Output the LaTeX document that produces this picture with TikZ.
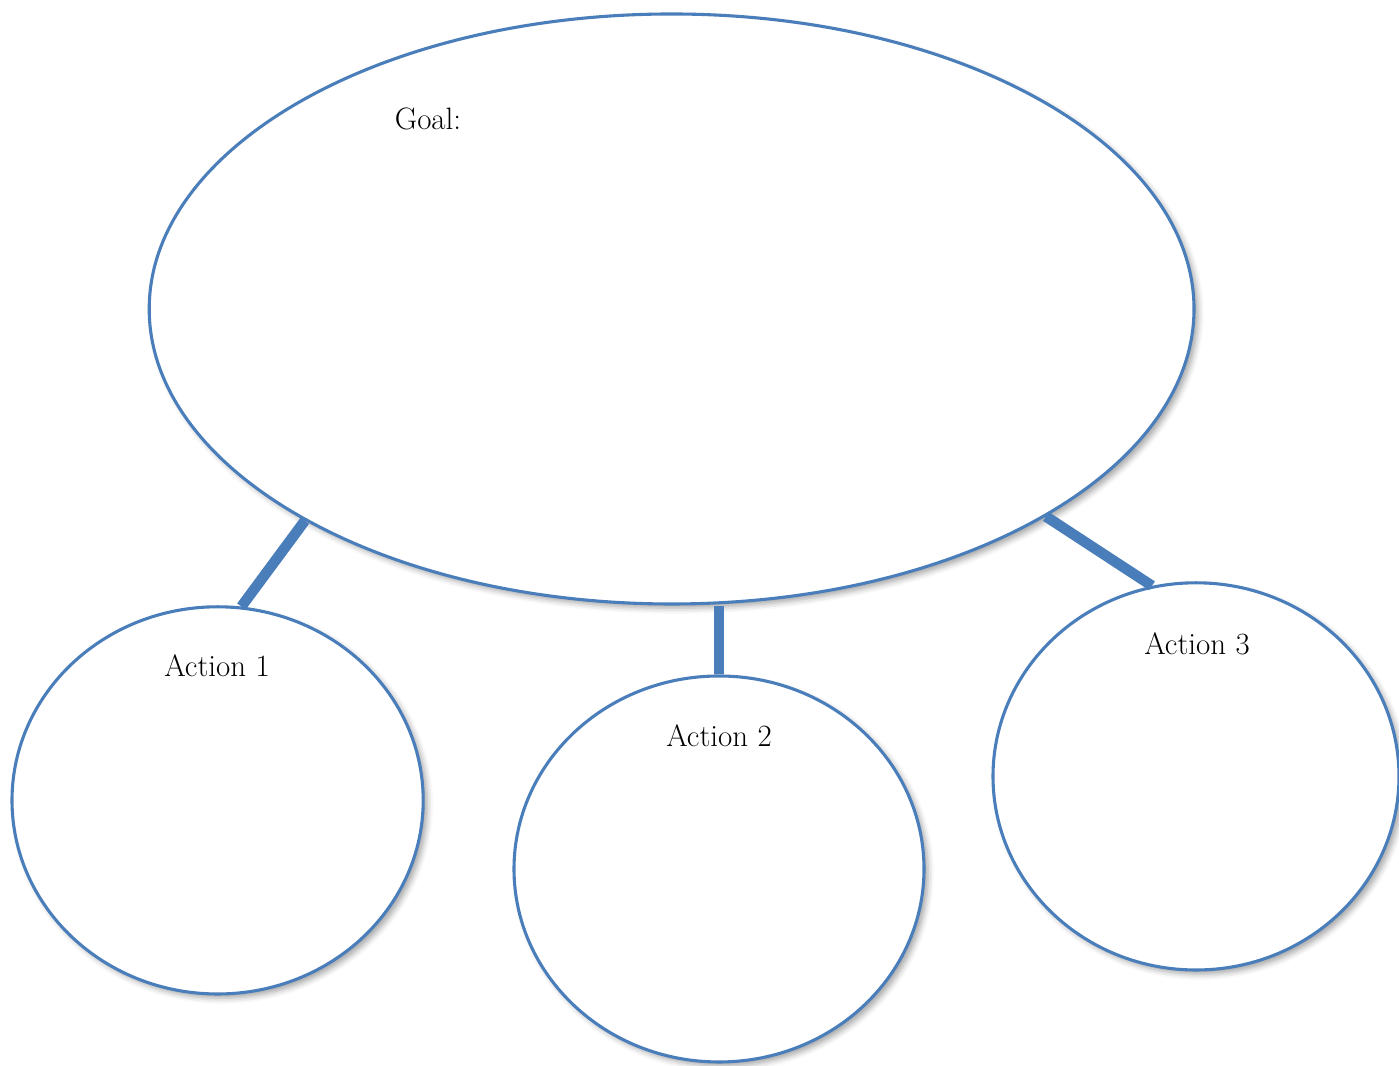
\documentclass[tikz,border=0pt]{standalone}
\usetikzlibrary{shapes.geometric}
\usetikzlibrary{shadows.blur}
\definecolor{wordblue}{RGB}{74,126,187}

\begin{document}
\begin{tikzpicture}[
  bubble/.style={ellipse, draw=wordblue, line width=2.2pt, fill=white, inner sep=0pt,
    blur shadow={shadow xshift=3pt, shadow yshift=-3pt, shadow blur radius=4pt, shadow opacity=35}},
  link/.style={wordblue, line width=7.5pt},
  lbl/.style={font=\fontsize{22}{26}\selectfont}
]
  \useasboundingbox (0, 0) rectangle (34.975, 26.65);

  \node[bubble, minimum width=26.12cm, minimum height=14.75cm] (goal) at (16.79, 18.925) {};
  \node[bubble, minimum width=10.28cm, minimum height=9.68cm] (act1) at (5.44, 6.64) {};
  \node[bubble, minimum width=10.25cm, minimum height=9.65cm] (act2) at (17.975, 4.925) {};
  \node[bubble, minimum width=10.15cm, minimum height=9.68cm] (act3) at (29.9, 7.24) {};

  \node[lbl] (goaltext) at (10.7, 23.675) {Goal:};
  \node[lbl] (act1text) at (5.425, 10.0) {Action 1};
  \node[lbl] (act2text) at (17.975, 8.25) {Action 2};
  \node[lbl] (act3text) at (29.925, 10.55) {Action 3};

  \draw[link] (goal.210) -- (act1.83);
  \draw[link] (act2.north |- goal.south) -- (act2.north);
  \draw[link] (goal.331) -- (act3.103);
\end{tikzpicture}
\end{document}
